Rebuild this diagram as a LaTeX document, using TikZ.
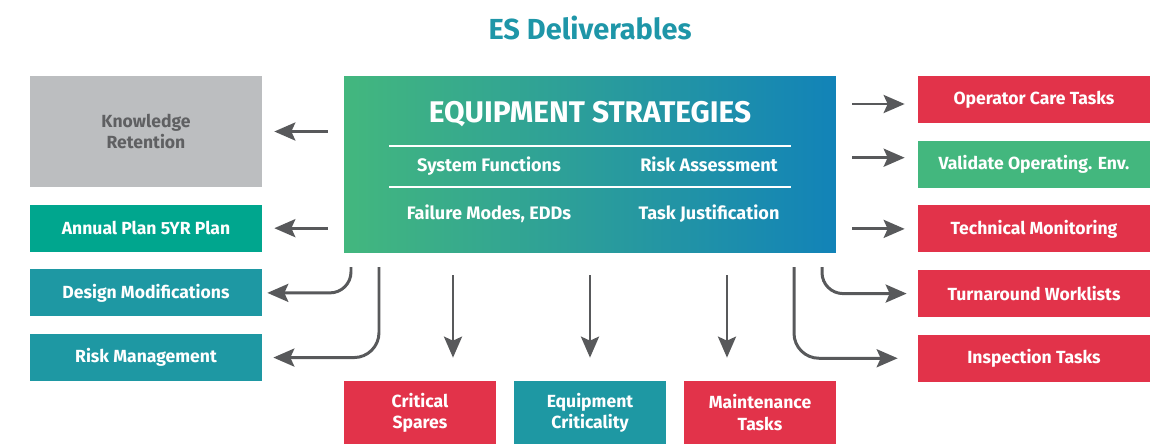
\documentclass[tikz,border=0pt]{standalone}
\usepackage{fontspec}
\setmainfont{Fira Sans}
\usetikzlibrary{positioning,arrows.meta,calc}
\definecolor{esred}{RGB}{226,51,74}
\definecolor{esteal}{RGB}{30,152,163}
\definecolor{estitle}{RGB}{30,150,168}
\definecolor{esgreen}{RGB}{67,183,126}
\definecolor{esjade}{RGB}{0,166,142}
\definecolor{esgray}{RGB}{188,190,192}
\definecolor{esgraytext}{RGB}{95,96,98}
\definecolor{esblue}{RGB}{18,131,184}
\definecolor{esarrow}{RGB}{88,89,91}
\tikzstyle{box}=[rectangle,minimum width=4.64cm,minimum height=0.94cm,inner sep=2pt,
font=\bfseries\fontsize{10}{12}\selectfont,text=white,align=center]
\tikzstyle{redbox}=[box,fill=esred]
\tikzstyle{tealbox}=[box,fill=esteal]
\tikzstyle{greenbox}=[box,fill=esgreen]
\tikzstyle{jadebox}=[box,fill=esjade]
\tikzstyle{graybox}=[box,fill=esgray,text=esgraytext,minimum height=2.22cm]
\tikzstyle{lowbox}=[box,minimum width=3.04cm,minimum height=1.26cm]
\tikzstyle{subtext}=[font=\bfseries\fontsize{10.3}{12}\selectfont,text=white,anchor=base]
\tikzstyle{arr}=[draw=esarrow,line width=1.7pt,-{Stealth[length=0.42cm,width=0.36cm,inset=0.08cm]}]

\begin{document}
\begin{tikzpicture}[x=0.02cm,y=-0.02cm]
            \useasboundingbox (0,0) rectangle (1157,444);

            % TITLE

            \node[font=\bfseries\fontsize{16.5}{19}\selectfont,text=estitle,anchor=base] (title) at (590,39) {ES Deliverables};

            % CENTRE

            \node[rectangle,minimum width=9.84cm,minimum height=3.54cm,left color=esgreen,right color=esblue] (es) at (590,164.5) {};
            \node[font=\bfseries\fontsize{17}{20}\selectfont,text=white,anchor=base] (est) at (590,122) {EQUIPMENT STRATEGIES};
            \draw[white,line width=0.9pt] (389,146) -- (791,146);
            \draw[white,line width=0.9pt] (389,187) -- (791,187);
            \node[subtext] (sf) at (489,171) {System Functions};
            \node[subtext] (ra) at (709,171) {Risk Assessment};
            \node[subtext] (fm) at (489,219) {Failure Modes, EDDs};
            \node[subtext] (tj) at (709,219) {Task Justification};

            % LEFT PART

            \node[graybox] (kr) at (146,131.5) {Knowledge\\Retention};
            \node[jadebox, below=0.34cm of kr] (ap) {Annual Plan 5YR Plan};
            \node[tealbox, below=0.34cm of ap] (dm) {Design Modifications};
            \node[tealbox, below=0.34cm of dm] (rm) {Risk Management};

            % RIGHT PART

            \node[redbox] (oct) at (1034,99.5) {Operator Care Tasks};
            \node[greenbox, below=0.34cm of oct] (voe) {Validate Operating. Env.};
            \node[redbox, below=0.34cm of voe] (tm) {Technical Monitoring};
            \node[redbox, below=0.34cm of tm] (tw) {Turnaround Worklists};
            \node[redbox, below=0.34cm of tw] (it) {Inspection Tasks};

            % BOTTOM PART

            \node[lowbox,fill=esred] (cs) at (420,412.5) {Critical\\Spares};
            \node[lowbox,fill=esteal] (ec) at (590,412.5) {Equipment\\Criticality};
            \node[lowbox,fill=esred] (mt) at (760,412.5) {Maintenance\\Tasks};

            % Arrows

            \draw[arr,shorten <=0.32cm,shorten >=0.24cm] (es.west |- kr) -- (kr.east);
            \draw[arr,shorten <=0.32cm,shorten >=0.24cm] (es.west |- ap) -- (ap.east);
            \draw[arr,shorten <=0.32cm,shorten >=0.26cm] ($(es.east |- oct)+(0,4.5)$) -- ($(oct.west)+(0,4.5)$);
            \draw[arr,shorten <=0.32cm,shorten >=0.26cm] ($(es.east |- voe)+(0,-6.5)$) -- ($(voe.west)+(0,-6.5)$);
            \draw[arr,shorten <=0.32cm,shorten >=0.26cm] (es.east |- tm) -- (tm.west);

            \coordinate (d1) at (453,275);
            \coordinate (d2) at (590,275);
            \coordinate (d3) at (727,275);
            \draw[arr,shorten >=0.46cm] (d1) -- (d1 |- cs.north);
            \draw[arr,shorten >=0.46cm] (d2) -- (d2 |- ec.north);
            \draw[arr,shorten >=0.46cm] (d3) -- (d3 |- mt.north);

            \coordinate (c1) at (351,267);
            \coordinate (c2) at (379,267);
            \coordinate (c3) at (822,267);
            \coordinate (c4) at (794,267);
            \draw[arr,rounded corners=0.42cm,shorten >=0.1cm] (c1) |- (dm.east);
            \draw[arr,rounded corners=0.5cm,shorten >=0.22cm] (c2) |- (rm.east);
            \draw[arr,rounded corners=0.42cm,shorten >=0.22cm] (c3) |- (tw.west);
            \draw[arr,rounded corners=0.5cm,shorten >=0.4cm] (c4) |- (it.west);

\end{tikzpicture}
\end{document}
